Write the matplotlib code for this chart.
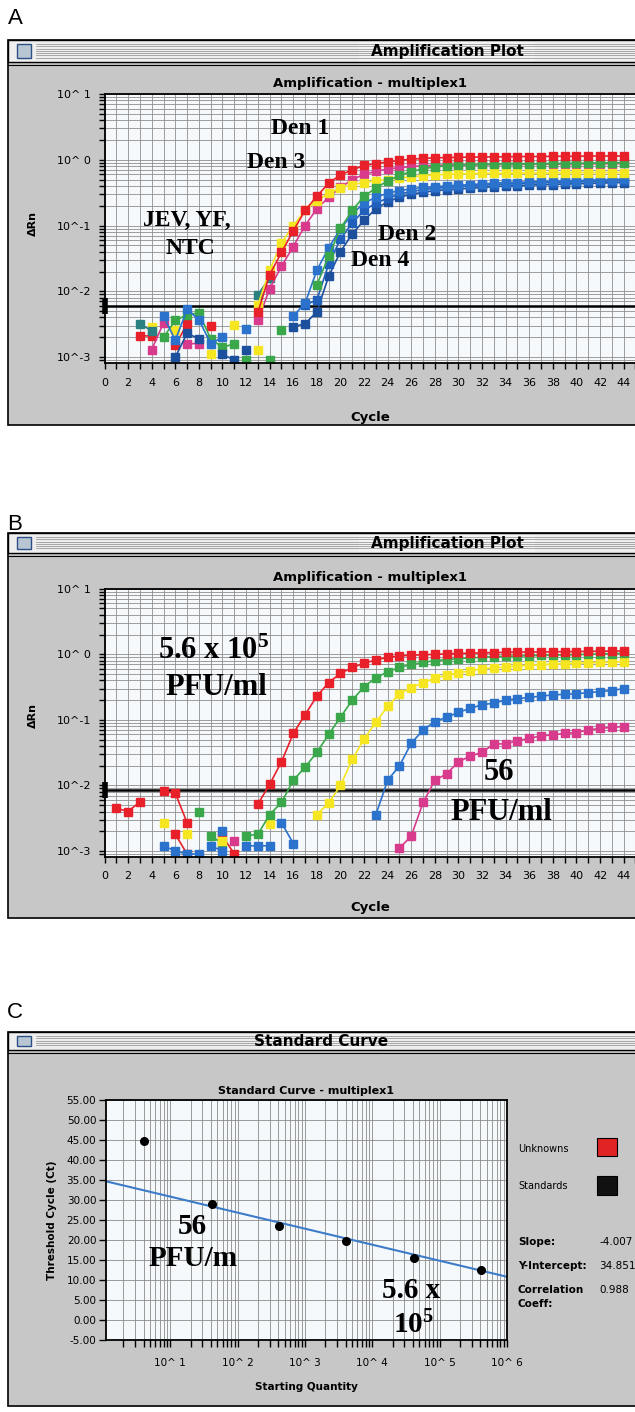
import numpy as np
import matplotlib
matplotlib.use("Agg")
import matplotlib.pyplot as plt
from matplotlib.patches import Rectangle
from matplotlib.ticker import LogLocator, NullFormatter

plt.rcParams['mathtext.fontset'] = 'custom'
plt.rcParams['mathtext.rm'] = 'Liberation Serif:bold'
plt.rcParams['mathtext.it'] = 'Liberation Serif:bold'
plt.rcParams['mathtext.bf'] = 'Liberation Serif:bold'

nan = np.nan

# ---------------- panel A : multiplex, one virus per well ----------------
a_red_cyc = list(range(13, 45))
a_red = [0.0048, 0.018, 0.039, 0.083, 0.17, 0.28, 0.44, 0.59, 0.70, 0.82, 0.87, 0.93,
         0.98, 1.02, 1.05, 1.07, 1.08, 1.09, 1.10, 1.10, 1.11, 1.11, 1.12, 1.12, 1.12,
         1.13, 1.13, 1.13, 1.14, 1.14, 1.14, 1.14]
a_yellow_cyc = list(range(13, 45))
a_yellow = [0.0062, 0.021, 0.054, 0.10, 0.17, 0.24, 0.31, 0.37, 0.42, 0.45, 0.48, 0.50,
            0.53, 0.55, 0.57, 0.59, 0.60, 0.61, 0.61, 0.62, 0.62, 0.62, 0.63, 0.63, 0.63,
            0.63, 0.64, 0.64, 0.64, 0.64, 0.64, 0.64]
a_magenta_cyc = list(range(13, 45))
a_magenta = [0.0036, 0.011, 0.024, 0.048, 0.10, 0.18, 0.27, 0.38, 0.50, 0.60, 0.67, 0.72,
             0.76, 0.79, 0.81, 0.82, 0.83, 0.83, 0.84, 0.84, 0.85, 0.85, 0.85, 0.86, 0.86,
             0.86, 0.86, 0.87, 0.87, 0.87, 0.87, 0.88]
a_green_cyc = list(range(18, 45))
a_green = [0.0126, 0.034, 0.091, 0.17, 0.28, 0.37, 0.48, 0.58, 0.66, 0.73, 0.78, 0.81,
           0.83, 0.84, 0.85, 0.85, 0.86, 0.86, 0.87, 0.87, 0.88, 0.88, 0.88, 0.89, 0.89,
           0.90, 0.90]
a_blue_cyc = list(range(16, 45))
a_blue = [0.0042, 0.0066, 0.021, 0.046, 0.089, 0.15, 0.22, 0.27, 0.31, 0.34, 0.36, 0.38,
          0.39, 0.40, 0.41, 0.42, 0.43, 0.44, 0.45, 0.45, 0.46, 0.47, 0.47, 0.48, 0.48,
          0.49, 0.50, 0.50, 0.51]
a_blue2_cyc = list(range(17, 45))
a_blue2 = [0.0062, 0.0074, 0.026, 0.062, 0.11, 0.17, 0.22, 0.26, 0.30, 0.33, 0.35, 0.37,
           0.38, 0.39, 0.40, 0.41, 0.42, 0.43, 0.43, 0.44, 0.45, 0.45, 0.46, 0.46, 0.47,
           0.47, 0.48, 0.48]
a_dkblue_cyc = list(range(16, 45))
a_dkblue = [0.0029, 0.0032, 0.0049, 0.017, 0.040, 0.075, 0.12, 0.18, 0.23, 0.27, 0.30,
            0.32, 0.34, 0.35, 0.36, 0.37, 0.38, 0.39, 0.40, 0.40, 0.41, 0.42, 0.42, 0.43,
            0.43, 0.44, 0.44, 0.45, 0.45]
a_teal_cyc = [3, 4, nan, 13, 14]
a_teal = [0.0032, 0.0025, nan, 0.0089, 0.016]

# background wells (JEV, YF, NTC) - noise below threshold
a_red_n_cyc = [3, 4, nan, 6, 7, nan, 9]
a_red_n = [0.0021, 0.0021, nan, 0.0015, 0.0032, nan, 0.0030]
a_mag_n_cyc = [4, 5, nan, 7, 8]
a_mag_n = [0.0013, 0.0033, nan, 0.0016, 0.0016]
a_yel_n_cyc = [4, nan, 6, nan, 9, nan, 11, nan, 13]
a_yel_n = [0.0029, nan, 0.0026, nan, 0.0011, nan, 0.0031, nan, 0.0013]
a_grn_n_cyc = [5, 6, 7, 8, 9, 10, 11, nan, 12, nan, 14, nan, 15]
a_grn_n = [0.0020, 0.0036, 0.0044, 0.0047, 0.0019, 0.0014, 0.0016, nan, 0.0009, nan,
           0.0009, nan, 0.0026]
a_blu_n_cyc = [5, 6, 7, 8, 9, 10, nan, 12]
a_blu_n = [0.0042, 0.0018, 0.0053, 0.0037, 0.0016, 0.0020, nan, 0.0027]
a_blu2_n_cyc = [6, 7, 8, nan, 10, 11, nan, 12]
a_blu2_n = [0.0010, 0.0023, 0.0019, nan, 0.0011, 0.0009, nan, 0.0013]

a_threshold = 0.0060

# ---------------- panel B : 10-fold dilutions of Den ----------------
b_red_cyc = list(range(13, 45))
b_red = [0.0052, 0.0104, 0.023, 0.062, 0.12, 0.23, 0.37, 0.51, 0.63, 0.73, 0.82, 0.90,
         0.94, 0.97, 0.98, 1.00, 1.01, 1.03, 1.04, 1.05, 1.06, 1.07, 1.08, 1.08, 1.09,
         1.09, 1.10, 1.10, 1.11, 1.11, 1.12, 1.12]
b_green_cyc = list(range(12, 45))
b_green = [0.0017, 0.0018, 0.0036, 0.0055, 0.012, 0.019, 0.032, 0.060, 0.11, 0.20, 0.32,
           0.44, 0.54, 0.63, 0.70, 0.75, 0.80, 0.83, 0.86, 0.88, 0.90, 0.92, 0.93, 0.94,
           0.95, 0.96, 0.97, 0.98, 0.99, 1.00, 1.01, 1.02, 1.03]
b_yellow_cyc = list(range(18, 45))
b_yellow = [0.0036, 0.0054, 0.0100, 0.025, 0.051, 0.092, 0.16, 0.25, 0.31, 0.37, 0.43,
            0.48, 0.52, 0.56, 0.60, 0.62, 0.64, 0.66, 0.68, 0.69, 0.71, 0.72, 0.73, 0.74,
            0.75, 0.76, 0.77]
b_blue_cyc = list(range(23, 45))
b_blue = [0.0036, 0.012, 0.020, 0.044, 0.070, 0.094, 0.11, 0.13, 0.15, 0.17, 0.18, 0.20,
          0.21, 0.22, 0.23, 0.24, 0.245, 0.25, 0.26, 0.27, 0.28, 0.30]
b_magenta_cyc = list(range(25, 45))
b_magenta = [0.0011, 0.0017, 0.0055, 0.012, 0.015, 0.023, 0.028, 0.032, 0.043, 0.043,
             0.048, 0.052, 0.057, 0.059, 0.062, 0.064, 0.070, 0.074, 0.077, 0.079]

b_red_n_cyc = [1, 2, 3, nan, 5, 6, 7, nan, 6, 7, nan, 10, 11]
b_red_n = [0.0045, 0.0040, 0.0056, nan, 0.0081, 0.0076, 0.0027, nan, 0.0018, 0.0009, nan,
           0.0017, 0.0009]
b_grn_n_cyc = [8, nan, 9, 10]
b_grn_n = [0.0039, nan, 0.0017, 0.0013]
b_yel_n_cyc = [5, nan, 7, nan, 10, nan, 14]
b_yel_n = [0.0027, nan, 0.0018, nan, 0.0014, nan, 0.0026]
b_blu_n_cyc = [5, 6, 7, 8, nan, 9, 10, nan, 10, nan, 12, 13, 14, nan, 15, 16]
b_blu_n = [0.0012, 0.0010, 0.0009, 0.0009, nan, 0.0012, 0.0010, nan, 0.0020, nan,
           0.0012, 0.0012, 0.0012, nan, 0.0027, 0.0013]
b_mag_n_cyc = [11]
b_mag_n = [0.0014]

b_threshold = 0.0086

# ---------------- panel C : standard curve ----------------
c_quantity = [4.1, 41, 410, 4100, 41000, 410000]
c_ct = [44.75, 29.1, 23.6, 19.7, 15.6, 12.4]
c_slope = -4.007
c_intercept = 34.851
c_corr = 0.988

RED, MAG, YEL, GRN = '#e8202a', '#d83a8c', '#f6e622', '#3aa84a'
BLU, BLU2, DKB, TEAL = '#2a72cc', '#2060bb', '#1c4f9c', '#2a7f80'

W, H = 635, 1412
fig = plt.figure(figsize=(W / 100, H / 100), dpi=100)
fig.patch.set_facecolor('white')

bg = fig.add_axes([0, 0, 1, 1])
bg.set_xlim(0, W)
bg.set_ylim(H, 0)
bg.axis('off')


def axes_px(x0, y0, x1, y1):
    return fig.add_axes([x0 / W, 1 - y1 / H, (x1 - x0) / W, (y1 - y0) / H])


def ftext(x, y, s, **kw):
    return fig.text(x / W, 1 - y / H, s, **kw)


def window(top, bar, bottom, title, cx, tw):
    bg.add_patch(Rectangle((8, top), 640, bottom - top, fc='#c7c7c7', ec='black', lw=1.2))
    bg.add_patch(Rectangle((8, top), 640, bar - top, fc='#eeeeee', ec='black', lw=1.0))
    for yy in np.arange(top + 4, bar - 3, 2.3):
        bg.plot([36, 640], [yy, yy], color='#8a8a8a', lw=0.5)
    bg.add_patch(Rectangle((17, top + 4), 14, bar - top - 8, fc='#b8c6d4', ec='#2c4f85', lw=1))
    bg.add_patch(Rectangle((cx - tw / 2, top + 1.5), tw, bar - top - 3, fc='#f4f4f4', ec='none'))
    bg.text(cx, (top + bar) / 2 + 0.5, title, ha='center', va='center', fontsize=11,
            fontweight='bold', family='DejaVu Sans')
    bg.plot([8, 640], [bar + 2.5, bar + 2.5], color='black', lw=0.8)


def amp_axes(top, bottom, ylo):
    ax = axes_px(104.5, top, 635.5, bottom)
    ax.set_facecolor('#f6f9fb')
    ax.set_yscale('log')
    ax.set_ylim(ylo, 10)
    ax.set_xlim(0, 45)
    ax.set_xticks(range(46))
    ax.set_xticklabels([str(i) if i % 2 == 0 and i < 45 else '' for i in range(46)])
    ax.set_yticks([1e-3, 1e-2, 1e-1, 1, 10])
    ax.set_yticklabels(['10^-3', '10^-2', '10^-1', '10^ 0', '10^ 1'])
    ax.yaxis.set_minor_locator(LogLocator(base=10, subs=np.arange(2, 10)))
    ax.yaxis.set_minor_formatter(NullFormatter())
    ax.grid(True, which='both', color='#8e8e8e', lw=0.6)
    ax.set_axisbelow(True)
    ax.tick_params(which='both', direction='out', length=4.5, width=1, labelsize=8)
    ax.tick_params(axis='x', pad=6)
    ax.tick_params(axis='y', pad=5)
    ax.spines['right'].set_visible(False)
    for s in ['left', 'bottom', 'top']:
        ax.spines[s].set_linewidth(1.3)
    return ax


def curve(ax, cyc, vals, color):
    ax.plot(cyc, vals, '-s', color=color, ms=5.3, lw=1.2, mec=color)


def threshold(ax, thr):
    ax.axhline(thr, color='black', lw=1.8, zorder=1.5)
    ax.plot([0], [thr], marker='|', ms=11, mew=4, color='black', clip_on=False)


# ---------- panel A ----------
ftext(15, 18, 'A', fontsize=16, family='Liberation Sans', ha='center', va='center')
window(40, 62, 425, 'Amplification Plot', 447, 176)
axA = amp_axes(94, 363, 10 ** -3.09)
ftext(370, 83, 'Amplification - multiplex1', ha='center', va='center', fontsize=9.5,
      fontweight='bold')
ftext(370, 417, 'Cycle', ha='center', va='center', fontsize=9.5, fontweight='bold')
ftext(33, 223, 'ΔRn', ha='center', va='center', fontsize=8, fontweight='bold', rotation=90)

for cyc, vals, col in [(a_red_n_cyc, a_red_n, RED), (a_mag_n_cyc, a_mag_n, MAG),
                       (a_yel_n_cyc, a_yel_n, YEL), (a_grn_n_cyc, a_grn_n, GRN),
                       (a_blu_n_cyc, a_blu_n, BLU), (a_blu2_n_cyc, a_blu2_n, DKB),
                       (a_teal_cyc, a_teal, TEAL)]:
    curve(axA, cyc, vals, col)
for cyc, vals, col in [(a_dkblue_cyc, a_dkblue, DKB), (a_blue2_cyc, a_blue2, BLU2),
                       (a_blue_cyc, a_blue, BLU), (a_magenta_cyc, a_magenta, MAG),
                       (a_yellow_cyc, a_yellow, YEL), (a_green_cyc, a_green, GRN),
                       (a_red_cyc, a_red, RED)]:
    curve(axA, cyc, vals, col)
threshold(axA, a_threshold)

serif = dict(family='Liberation Serif', fontweight='bold', ha='center', va='center')
ftext(300, 129, 'Den 1', fontsize=17, **serif)
ftext(276, 162, 'Den 3', fontsize=17, **serif)
ftext(187, 220, 'JEV, YF,', fontsize=17, **serif)
ftext(190, 248, 'NTC', fontsize=17, **serif)
ftext(407, 235, 'Den 2', fontsize=17, **serif)
ftext(380, 261, 'Den 4', fontsize=17, **serif)

# ---------- panel B ----------
ftext(15, 524, 'B', fontsize=16, family='Liberation Sans', ha='center', va='center')
window(533, 553, 918, 'Amplification Plot', 447, 176)
axB = amp_axes(588.7, 856.7, 10 ** -3.087)
ftext(370, 578, 'Amplification - multiplex1', ha='center', va='center', fontsize=9.5,
      fontweight='bold')
ftext(370, 908, 'Cycle', ha='center', va='center', fontsize=9.5, fontweight='bold')
ftext(33, 716, 'ΔRn', ha='center', va='center', fontsize=8, fontweight='bold', rotation=90)

for cyc, vals, col in [(b_red_n_cyc, b_red_n, RED), (b_grn_n_cyc, b_grn_n, GRN),
                       (b_yel_n_cyc, b_yel_n, YEL), (b_blu_n_cyc, b_blu_n, BLU),
                       (b_mag_n_cyc, b_mag_n, MAG)]:
    curve(axB, cyc, vals, col)
for cyc, vals, col in [(b_magenta_cyc, b_magenta, MAG), (b_blue_cyc, b_blue, BLU),
                       (b_yellow_cyc, b_yellow, YEL), (b_green_cyc, b_green, GRN),
                       (b_red_cyc, b_red, RED)]:
    curve(axB, cyc, vals, col)
threshold(axB, b_threshold)

ftext(214, 651, r'5.6 x 10$^5$', fontsize=22, **serif)
ftext(216, 688, 'PFU/ml', fontsize=22, **serif)
ftext(499, 773, '56', fontsize=22, **serif)
ftext(501, 812, 'PFU/ml', fontsize=22, **serif)

# ---------- panel C ----------
ftext(15, 1013, 'C', fontsize=16, family='Liberation Sans', ha='center', va='center')
window(1032, 1050, 1406, 'Standard Curve', 321, 120)
axC = axes_px(106, 1100, 507, 1340)
axC.set_facecolor('#f6f9fb')
axC.set_xscale('log')
axC.set_xlim(10 ** 0.045, 1e6)
axC.set_ylim(-5, 55)
axC.set_yticks(np.arange(-5, 56, 5))
axC.set_yticklabels(['%.2f' % v for v in np.arange(-5, 56, 5)])
axC.set_xticks([1e1, 1e2, 1e3, 1e4, 1e5, 1e6])
axC.set_xticklabels(['10^ %d' % n for n in range(1, 7)])
axC.xaxis.set_minor_locator(LogLocator(base=10, subs=np.arange(2, 10)))
axC.xaxis.set_minor_formatter(NullFormatter())
axC.grid(True, which='both', axis='x', color='#8a8a8a', lw=0.6)
axC.grid(True, which='major', axis='y', color='#8a8a8a', lw=0.6)
axC.set_axisbelow(True)
axC.tick_params(which='both', direction='out', length=5, width=1, labelsize=7.5)
axC.tick_params(axis='x', pad=8)
axC.tick_params(axis='y', pad=2)
for s in axC.spines.values():
    s.set_linewidth(1.3)

xs = np.logspace(0.045, 6, 50)
axC.plot(xs, c_slope * np.log10(xs) + c_intercept, color='#3d7cc9', lw=1.5)
axC.plot(c_quantity, c_ct, 'o', color='black', ms=5.5)

ftext(306, 1091, 'Standard Curve - multiplex1', ha='center', va='center', fontsize=8,
      fontweight='bold')
ftext(306, 1387, 'Starting Quantity', ha='center', va='center', fontsize=7.5,
      fontweight='bold')
ftext(52, 1220, 'Threshold Cycle (Ct)', ha='center', va='center', fontsize=7.5,
      fontweight='bold', rotation=90)

ftext(192, 1226, '56', fontsize=21, **serif)
ftext(193, 1258, 'PFU/m', fontsize=21, **serif)
ftext(411, 1291, '5.6 x', fontsize=21, **serif)
ftext(413, 1325, r'10$^5$', fontsize=21, **serif)

ftext(518, 1149, 'Unknowns', fontsize=7, va='center')
ftext(518, 1186, 'Standards', fontsize=7, va='center')
bg.add_patch(Rectangle((597, 1138), 20, 18, fc='#e02424', ec='black', lw=0.8))
bg.add_patch(Rectangle((597, 1176), 20, 19, fc='#111111', ec='black', lw=0.8))
ftext(518, 1242, 'Slope:', fontsize=7.5, fontweight='bold', va='center')
ftext(599, 1242, '%.3f' % c_slope, fontsize=7.5, va='center')
ftext(518, 1266, 'Y-Intercept:', fontsize=7.5, fontweight='bold', va='center')
ftext(599, 1266, '%.3f' % c_intercept, fontsize=7.5, va='center')
ftext(518, 1290, 'Correlation', fontsize=7.5, fontweight='bold', va='center')
ftext(518, 1304, 'Coeff:', fontsize=7.5, fontweight='bold', va='center')
ftext(599, 1290, '%.3f' % c_corr, fontsize=7.5, va='center')

fig.savefig('out.png', dpi=100)
